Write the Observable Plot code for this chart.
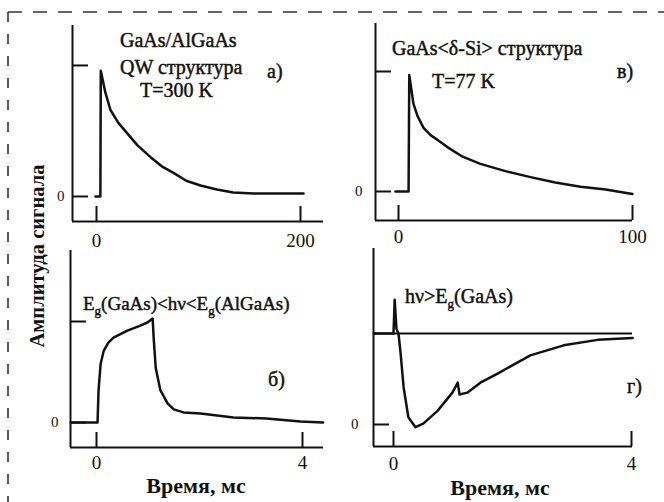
<!DOCTYPE html>
<html><head><meta charset="utf-8">
<script src="https://cdn.jsdelivr.net/npm/d3@7"></script>
<script src="https://cdn.jsdelivr.net/npm/@observablehq/plot@0.6"></script>
<style>
html,body{margin:0;padding:0;background:#fff;}
#fig{position:relative;width:664px;height:502px;overflow:hidden;background:#fff;font-family:'Liberation Serif','Times New Roman',serif;color:#111;}
.panel{position:absolute;}
.panel svg{background:transparent;overflow:visible;}
#overlay{position:absolute;left:0;top:0;pointer-events:none;}
#overlay text{font-family:'Liberation Serif','Times New Roman',serif;}
#overlay .ann{stroke:#111;stroke-width:0.45px;}
</style></head><body>
<div id="fig">
  <div class="panel" id="pA" style="left:0;top:0"></div>
  <div class="panel" id="pB" style="left:340px;top:0"></div>
  <div class="panel" id="pC" style="left:0;top:245px"></div>
  <div class="panel" id="pD" style="left:340px;top:245px"></div>
  <svg id="overlay" width="664" height="502" fill="#111">
    <line x1="8" y1="12" x2="664" y2="12" stroke="#333" stroke-width="1.6" stroke-dasharray="14,11"/>
    <line x1="8" y1="12" x2="8" y2="502" stroke="#333" stroke-width="1.6" stroke-dasharray="10,12"/>
    <text transform="translate(44,256) rotate(-90)" text-anchor="middle" font-size="20" font-weight="bold" textLength="183" lengthAdjust="spacingAndGlyphs">Амплитуда сигнала</text>
    <text class="ann" x="120" y="47" font-size="20">GaAs/AlGaAs</text>
    <text class="ann" x="120" y="74" font-size="20">QW структура</text>
    <text class="ann" x="140" y="97" font-size="20">T=300 K</text>
    <text class="ann" x="267" y="78" font-size="20">а)</text>
    <text class="ann" x="392" y="55" font-size="20">GaAs&lt;δ-Si&gt; структура</text>
    <text class="ann" x="432" y="88" font-size="20">T=77 K</text>
    <text class="ann" x="617" y="78" font-size="20">в)</text>
    <text class="ann" x="83" y="310" font-size="19">E<tspan font-size="13" dy="5">g</tspan><tspan dy="-5">(GaAs)&lt;hν&lt;E</tspan><tspan font-size="13" dy="5">g</tspan><tspan dy="-5">(AlGaAs)</tspan></text>
    <text class="ann" x="268" y="386" font-size="20">б)</text>
    <text class="ann" x="405" y="303" font-size="20">hν&gt;E<tspan font-size="13" dy="5">g</tspan><tspan dy="-5">(GaAs)</tspan></text>
    <text class="ann" x="627" y="393" font-size="20">г)</text>
    <text x="196" y="493" font-size="22" font-weight="bold" text-anchor="middle">Время, мс</text>
    <text x="500" y="495" font-size="22" font-weight="bold" text-anchor="middle">Время, мс</text>
  </svg>
</div>
<script>
// Panel а) GaAs/AlGaAs QW, T=300 K  (time axis 0..200)
const tA = [-1, 3.8, 4.2, 8.8, 13.7, 21.6, 30.4, 40.2, 53, 64, 75.5, 88, 102, 118, 134, 154, 203];
const vA = [0, 0, 0.96, 0.79, 0.66, 0.56, 0.48, 0.39, 0.30, 0.23, 0.18, 0.12, 0.084, 0.053, 0.03, 0.023, 0.023];
const xTicksA = [0, 200];
// Panel в) GaAs<δ-Si>, T=77 K (time axis 0..100)
const tB = [-1.3, 4.3, 4.6, 6.4, 8.1, 10.7, 13.7, 16.7, 20.9, 27.4, 35, 45.7, 56.4, 67, 77.8, 88.5, 100];
const vB = [0, 0, 0.97, 0.73, 0.63, 0.53, 0.47, 0.43, 0.37, 0.29, 0.23, 0.17, 0.12, 0.075, 0.04, 0.017, -0.02];
const xTicksB = [0, 100];
// Panel б) Eg(GaAs)<hν<Eg(AlGaAs) (time, ms)
const tC = [-0.5, 0.02, 0.04, 0.08, 0.14, 0.23, 0.33, 0.6, 0.85, 0.99, 1.09, 1.11, 1.15, 1.24, 1.38, 1.5, 1.69, 2.02, 2.66, 3.3, 3.96, 4.4];
const vC = [0, 0, 0.32, 0.58, 0.71, 0.79, 0.84, 0.91, 0.96, 0.99, 1.03, 0.84, 0.54, 0.32, 0.19, 0.13, 0.10, 0.09, 0.05, 0.04, 0.01, 0];
const xTicksC = [0, 4];
// Panel г) hν>Eg(GaAs) (time, ms); level 1 = horizontal reference line
const tD = [-0.33, 0.0, 0.02, 0.05, 0.084, 0.12, 0.17, 0.25, 0.37, 0.50, 0.74, 0.99, 1.08, 1.11, 1.24, 1.46, 1.75, 2.3, 2.86, 3.43, 4.02];
const vD = [1, 1, 1.37, 1.05, 1.0, 0.78, 0.41, 0.08, -0.03, 0.01, 0.15, 0.35, 0.46, 0.33, 0.35, 0.46, 0.56, 0.76, 0.87, 0.93, 0.95];
const xTicksD = [0, 4];
const baseD = [1];
const yTickLabel = [0];

const FONT = "'Liberation Serif', 'Times New Roman', serif";
const INK = "#111";

function panel(id, o) {
  const innerW = o.width - o.ml - o.mr, innerH = o.height - o.mt - o.mb;
  const data = o.t.map((t, i) => ({t, v: o.v[i]}));
  const marks = [
    Plot.ruleX([o.xd[0]], {stroke: INK, strokeWidth: 2}),
    Plot.ruleY([o.yd[0]], {stroke: INK, strokeWidth: 2}),
    Plot.gridX(o.xt, {stroke: INK, strokeOpacity: 1, strokeWidth: 2, insetTop: innerH - 15}),
    Plot.gridY(o.yt, {stroke: INK, strokeOpacity: 1, strokeWidth: 2, insetRight: innerW - 16}),
    Plot.axisX(o.xt, {tickSize: 0, tickPadding: o.xpad, fontSize: 19, label: null, fill: INK, tickFormat: d => String(d), fontFamily: FONT}),
    Plot.axisY(yTickLabel, {tickSize: 0, tickPadding: o.ypad, fontSize: 15, label: null, fill: INK, tickFormat: d => String(d), fontFamily: FONT})
  ];
  if (o.base) marks.push(Plot.ruleY(o.base, {stroke: INK, strokeWidth: 2}));
  marks.push(Plot.line(data, {x: "t", y: "v", stroke: INK, strokeWidth: 2.5, strokeLinejoin: "round"}));
  const chart = Plot.plot({
    width: o.width, height: o.height,
    marginLeft: o.ml, marginRight: o.mr, marginTop: o.mt, marginBottom: o.mb,
    style: {background: "transparent", fontFamily: FONT, color: INK, overflow: "visible"},
    x: {domain: o.xd, label: null},
    y: {domain: o.yd, label: null},
    marks
  });
  document.getElementById(id).append(chart);
}

panel("pA", {t: tA, v: vA, xt: xTicksA, yt: [0, 1], width: 340, height: 245, ml: 72, mr: 17, mt: 25, mb: 24,
  xd: [-23.53, 222.55], yd: [-0.191, 1.305], xpad: 12, ypad: 8});
panel("pB", {t: tB, v: vB, xt: xTicksB, yt: [0, 1], width: 324, height: 245, ml: 35, mr: 32, mt: 23, mb: 25,
  xd: [-9.83, 100], yd: [-0.2417, 1.40], xpad: 9, ypad: 13});
panel("pC", {t: tC, v: vC, xt: xTicksC, yt: [0, 1], width: 340, height: 257, ml: 70, mr: 17, mt: 5, mb: 55,
  xd: [-0.505, 4.408], yd: [-0.2475, 1.703], xpad: 8, ypad: 12});
panel("pD", {t: tD, v: vD, xt: xTicksD, yt: [0], width: 324, height: 257, ml: 33, mr: 32, mt: 3, mb: 56,
  xd: [-0.336, 4.017], yd: [-0.2418, 1.934], xpad: 10, ypad: 15, base: baseD});
</script>
</body></html>
